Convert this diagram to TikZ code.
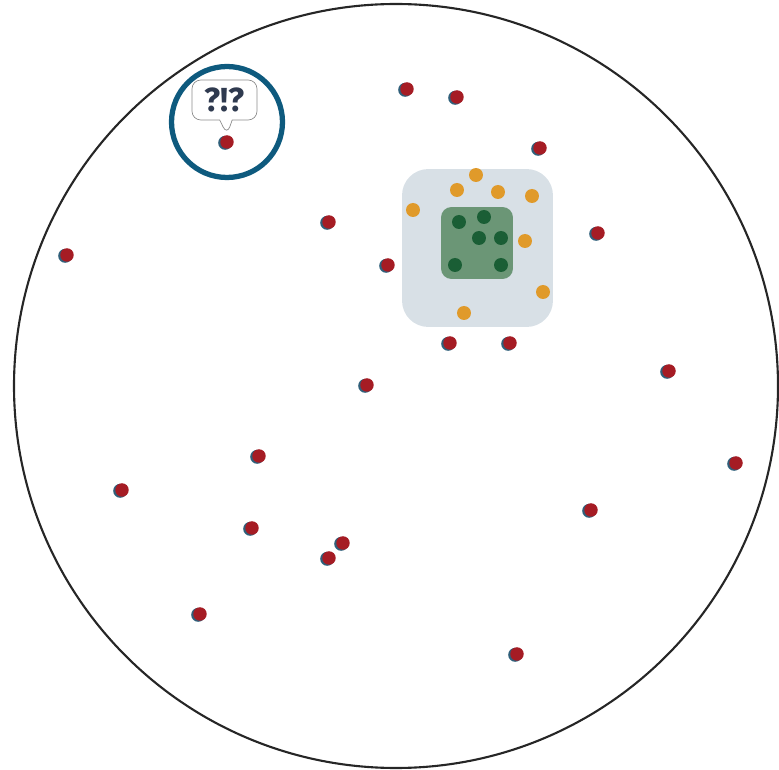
\documentclass[tikz,border=0pt]{standalone}
\usepackage{fontspec}
\setsansfont{Fira Sans}
\usepackage{xcolor}
\definecolor{colRed}{HTML}{A51C24}
\definecolor{colShade}{HTML}{2F5F7A}
\definecolor{colOrange}{HTML}{E09A2A}
\definecolor{colDkGreen}{HTML}{1A5E35}
\definecolor{colGreenBox}{HTML}{6B9676}
\definecolor{colPanel}{HTML}{D8E0E6}
\definecolor{colRing}{HTML}{0E5A7E}
\definecolor{colText}{HTML}{2F3A4F}
\usetikzlibrary{shapes.callouts}

\begin{document}
\begin{tikzpicture}[
		x=0.02cm, y=-0.02cm,
		reddot/.style={circle, fill=colRed, inner sep=0pt, minimum size=0.27cm},
		orangedot/.style={circle, fill=colOrange, inner sep=0pt, minimum size=0.28cm},
		greendot/.style={circle, fill=colDkGreen, inner sep=0pt, minimum size=0.28cm}
	]
	\useasboundingbox (0,0) rectangle (779,770);

	% outer disc
	\draw[line width=1.2pt, black!85] (396,386) circle[radius=382];

	% cluster panel
	\node[fill=colPanel, rounded corners=15pt, minimum width=3.02cm, minimum height=3.16cm,
		inner sep=0pt] (panel) at (477.5,248) {};
	\node[fill=colGreenBox, rounded corners=6pt, minimum width=1.44cm, minimum height=1.44cm,
		inner sep=0pt] (core) at (477,243) {};

	% scattered points (shadow first)
	\foreach \px/\py [count=\i] in {407/89, 457/97, 540/148, 227/142, 329/222, 67/255,
			388/265, 598/233, 450/343, 510/343, 367/385, 669/371, 259/456, 736/463,
			122/490, 591/510, 252/528, 343/543, 329/558, 200/614, 517/654} {
		\fill[colShade] (\px-1.8,\py+0.8) circle[radius=7];
		\node[reddot] (r\i) at (\px,\py) {};
	}

	\foreach \px/\py [count=\i] in {413/210, 457/190, 476/175, 498/192, 532/196,
			525/241, 543/292, 464/313}
		\node[orangedot] (o\i) at (\px,\py) {};

	\foreach \px/\py [count=\i] in {459/222, 484/217, 479/238, 501/238, 455/265, 501/265}
		\node[greendot] (g\i) at (\px,\py) {};

	% highlighted outlier
	\node[circle, draw=colRing, line width=3pt, minimum size=2.22cm] (ring) at (227,122) {};
	\node[rectangle callout, draw=black!45, fill=white, rounded corners=5pt,
		minimum width=1.3cm, minimum height=0.8cm, inner sep=0pt,
		callout absolute pointer={(r4.north)},
		font=\sffamily\bfseries\fontsize{19}{19}\selectfont, text=colText]
		(query) at (224.5,100) {?!?};
\end{tikzpicture}
\end{document}
